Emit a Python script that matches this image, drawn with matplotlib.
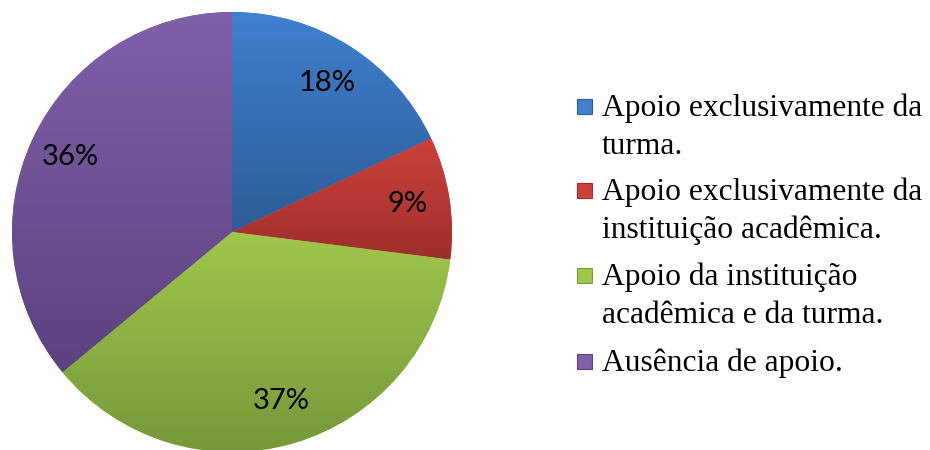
import numpy as np
import matplotlib.pyplot as plt
from matplotlib.colors import LinearSegmentedColormap
from matplotlib.patches import Rectangle

labels = ['Apoio exclusivamente da\nturma.',
          'Apoio exclusivamente da\ninstituição acadêmica.',
          'Apoio da instituição\nacadêmica e da turma.',
          'Ausência de apoio.']
values = [18, 9, 37, 36]
pct_labels = ['18%', '9%', '37%', '36%']
top_colors = ['#4080cf', '#cb423d', '#9fc74c', '#8060aa']
bottom_colors = ['#2d5c97', '#9e2e2a', '#76983a', '#5c4280']

W, H = 930, 450
fig = plt.figure(figsize=(W / 100, H / 100), dpi=100)
ax = fig.add_axes([12 / W, -2 / H, 440 / W, 440 / H])

wedges, _ = ax.pie(values, startangle=90, counterclock=False, radius=1,
                   colors=top_colors, wedgeprops=dict(linewidth=0))

# vertical gradient per wedge (light at top, darker at bottom)
grad = np.linspace(0, 1, 256).reshape(-1, 1)
for w, c0, c1 in zip(wedges, top_colors, bottom_colors):
    ext = w.get_path().get_extents()
    cmap = LinearSegmentedColormap.from_list('g', [c0, c1])
    im = ax.imshow(grad, cmap=cmap, aspect='auto', origin='upper',
                   extent=[ext.x0, ext.x1, ext.y0, ext.y1], zorder=2)
    im.set_clip_path(w)
ax.set_xlim(-1, 1)
ax.set_ylim(-1, 1)
ax.set_aspect('equal')
ax.axis('off')

# percentage labels
cum = 0
for v, txt in zip(values, pct_labels):
    mid = np.radians(90 - (cum + v / 2) * 3.6)
    cum += v
    ax.text(0.81 * np.cos(mid), 0.80 * np.sin(mid), txt,
            ha='center', va='center', fontsize=21, family='Lato', zorder=5)

# legend, drawn line by line so the marker sits on the first line
baselines = [116, 200, 285, 371]
line_step = 38
for lab, c0, c1, yb in zip(labels, top_colors, bottom_colors, baselines):
    fig.patches.append(Rectangle((577 / W, 1 - (yb - 2) / H), 15 / W, 15 / H,
                                 transform=fig.transFigure, facecolor=c0,
                                 edgecolor=c1, linewidth=0.8))
    for i, line in enumerate(lab.split('\n')):
        fig.text(602 / W, 1 - (yb + i * line_step) / H, line, ha='left',
                 va='baseline', fontsize=22.7, family='Liberation Serif')

fig.savefig('out.png', dpi=100)
